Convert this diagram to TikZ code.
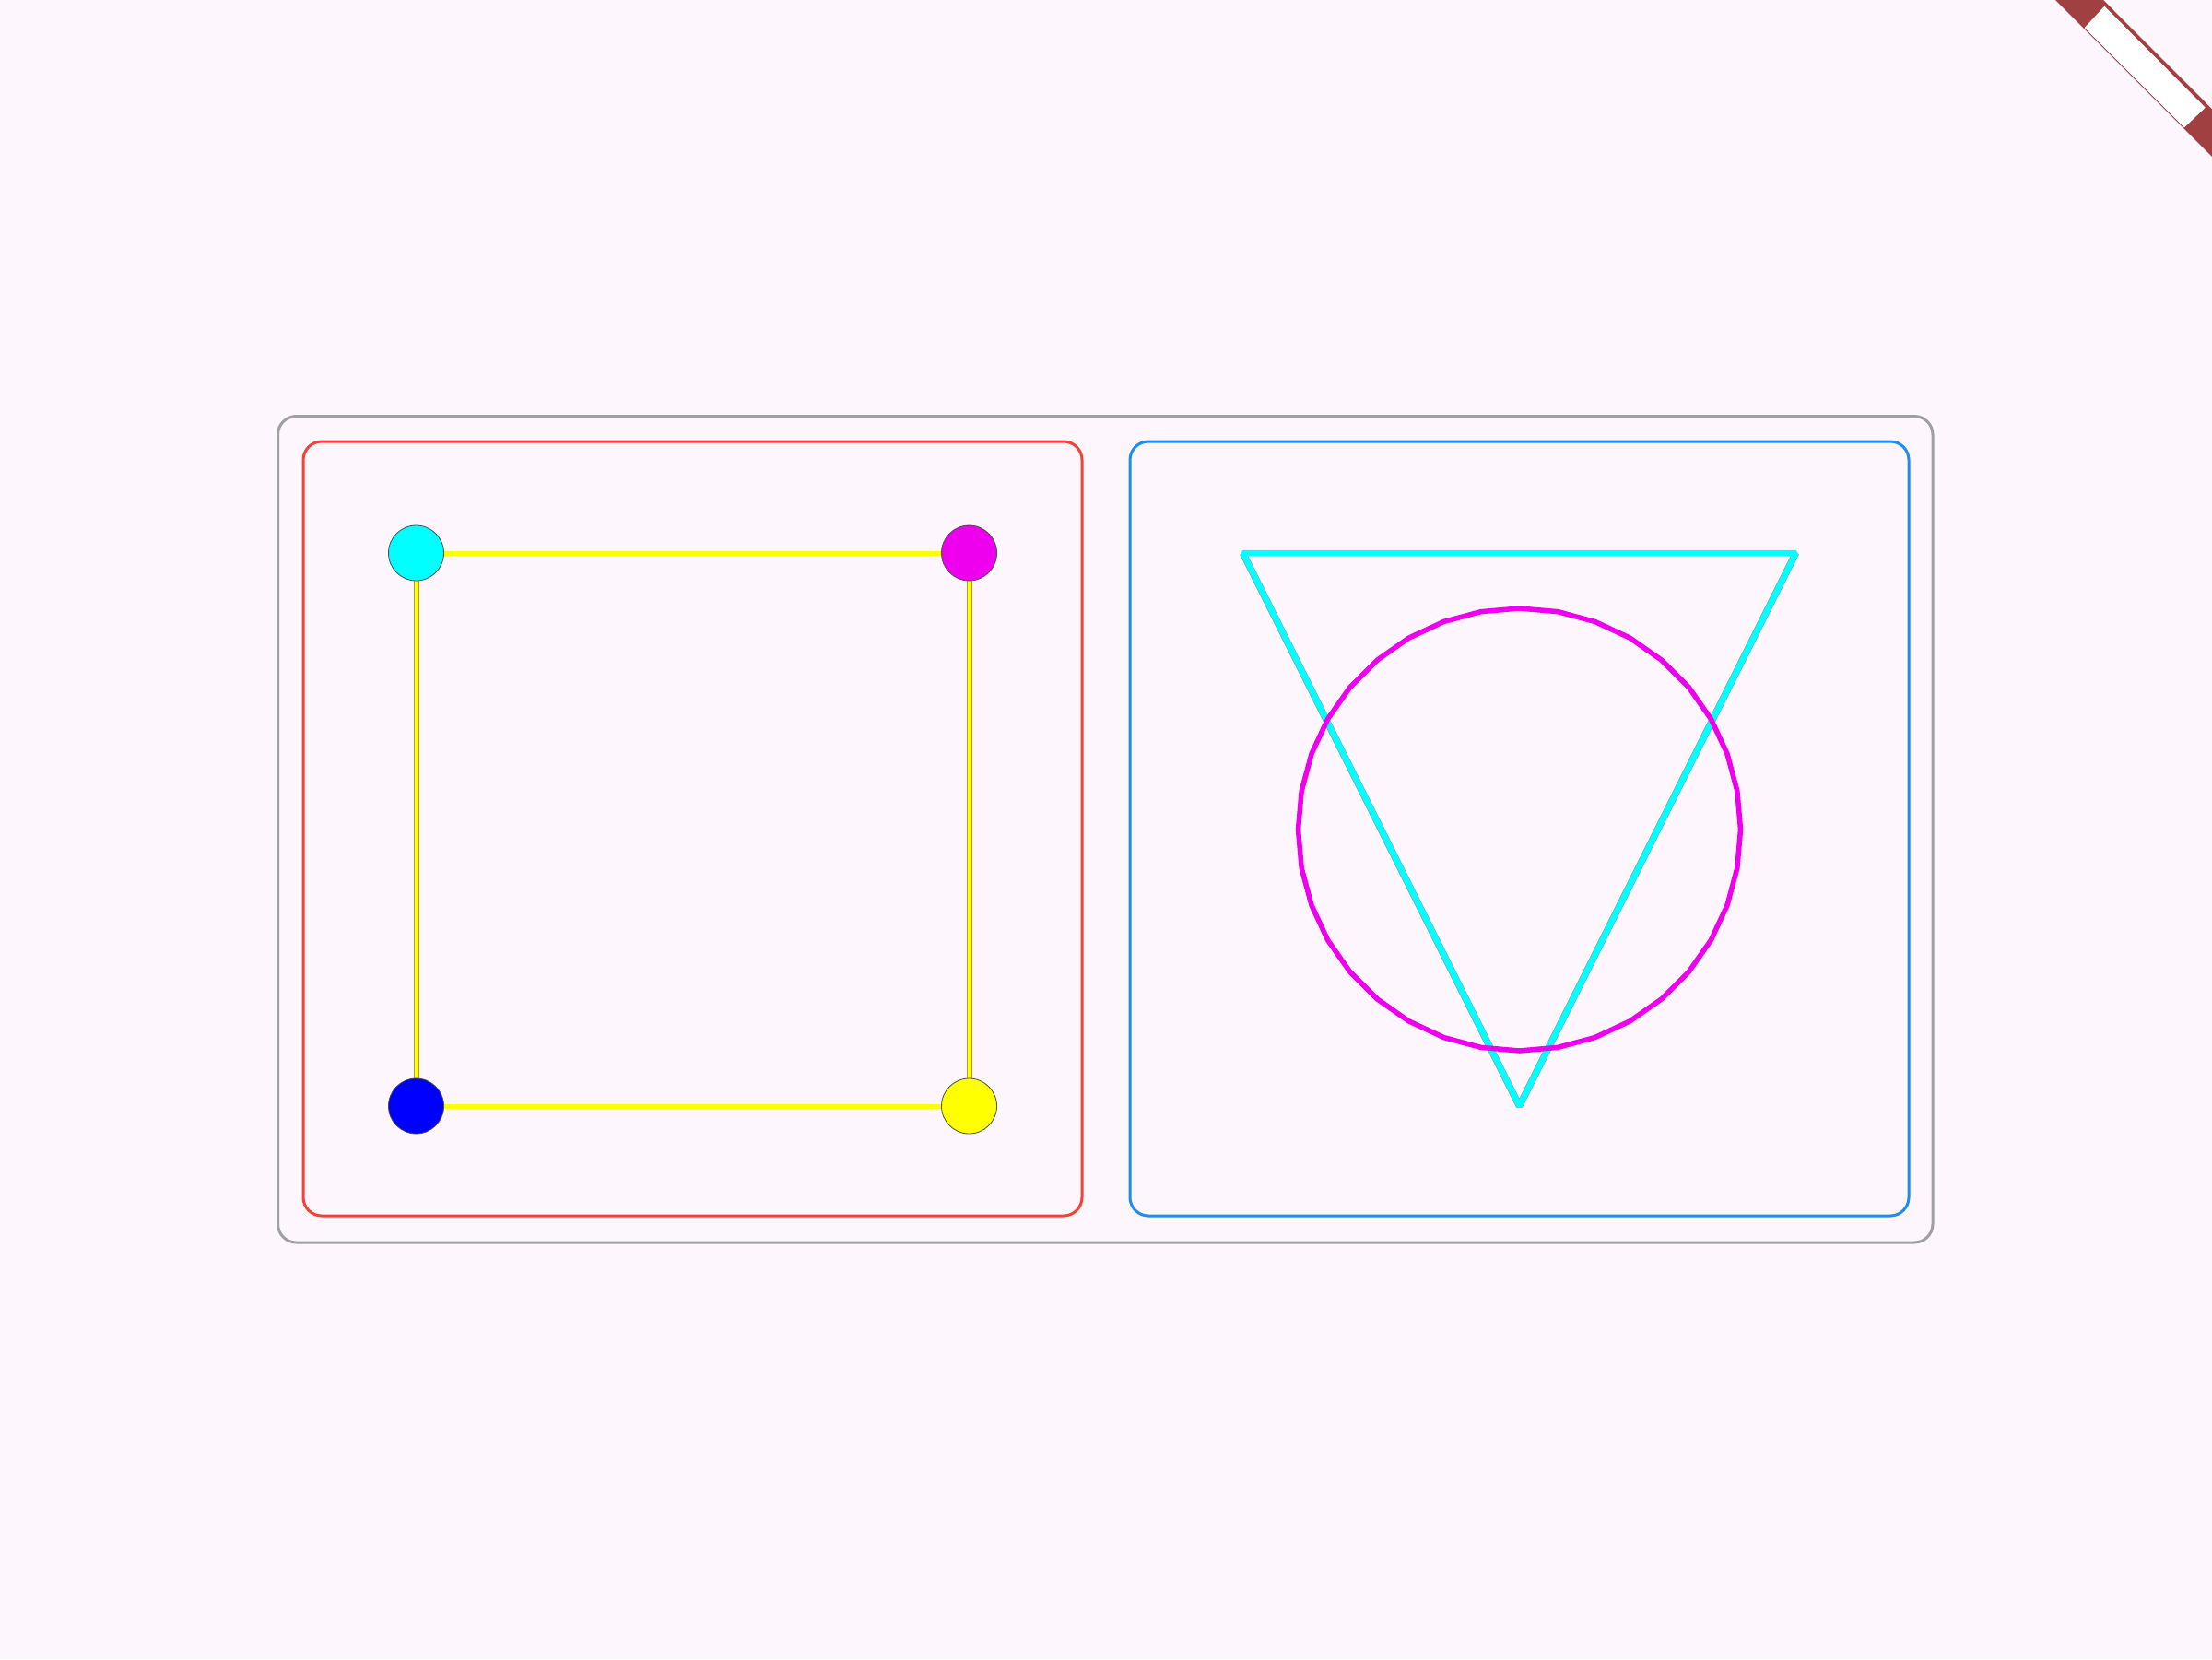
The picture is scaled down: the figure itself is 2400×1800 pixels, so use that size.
\documentclass[tikz,border=0pt]{standalone}
\usetikzlibrary{backgrounds}
\definecolor{bgc}{RGB}{253,246,253}
\definecolor{boxgray}{RGB}{160,160,160}
\definecolor{boxred}{RGB}{244,67,54}
\definecolor{boxblue}{RGB}{33,140,236}
\definecolor{ccyan}{RGB}{0,255,255}
\definecolor{cmag}{RGB}{238,0,238}
\definecolor{cblue}{RGB}{0,0,255}
\definecolor{cyel}{RGB}{255,255,0}
\definecolor{yedge}{RGB}{190,150,40}
\definecolor{bannerred}{RGB}{160,64,64}
\pgfdeclarelayer{edgelayer}
\pgfsetlayers{background,edgelayer,main}
\tikzset{
  panel/.style={line width=3pt, rounded corners=20pt},
  dot/.style={circle, minimum size=60pt, inner sep=0pt, draw=black!70, line width=0.8pt},
  hedge/.style={draw=cyel, line width=5pt},
  vedgeout/.style={draw=yedge, line width=6pt},
  vedgein/.style={draw=cyel, line width=4pt},
  tri/.style={draw=ccyan, line width=6.5pt, line join=bevel},
  ring/.style={draw=cmag, line width=5.5pt},
}
\begin{document}
\begin{tikzpicture}[x=1pt,y=-1pt]
\begin{pgfonlayer}{background}
\fill[bgc] (0,0) rectangle (2400,1800);
\useasboundingbox (0,0) rectangle (2400,1800);
\draw[panel, boxgray] (301.5,451.5) rectangle (2097,1348);
\draw[panel, boxred] (329,479) rectangle (1174,1319);
\draw[panel, boxblue] (1226,479) rectangle (2071,1319);
\end{pgfonlayer}

% left panel graph
\node[dot, fill=ccyan] (c) at (451.5,600) {};
\node[dot, fill=cmag] (m) at (1051.5,600) {};
\node[dot, fill=cblue] (b) at (451.5,1200) {};
\node[dot, fill=cyel] (y) at (1051.5,1200) {};
\begin{pgfonlayer}{edgelayer}
\draw[hedge] (c) -- (m);
\draw[hedge] (b) -- (y);
\draw[vedgeout] (c) -- (b);
\draw[vedgein] (c) -- (b);
\draw[vedgeout] (m) -- (y);
\draw[vedgein] (m) -- (y);
\end{pgfonlayer}

% right panel
\coordinate (t1) at (1348.5,600);
\coordinate (t2) at (1948.5,600);
\coordinate (t3) at (1648.5,1200);
\coordinate (cc) at (1648.5,900);
\draw[draw=black!50, line width=7.3pt, line join=bevel] (t1) -- (t3) -- (t2);
\draw[tri] (t1) -- (t2) -- (t3) -- cycle;
\draw[ring, shift={(cc)}] (0:240) \foreach \a in {10,20,...,350}{ -- (\a:240)} -- cycle;

% debug banner
\fill[bannerred] (2230,0) -- (2282,0) -- (2400,118.3) -- (2400,170) -- cycle;
\fill[white] (2261.7,30) -- (2283.3,6.7) -- (2392.7,116.7) -- (2370,138.3) -- cycle;
\end{tikzpicture}
\end{document}
